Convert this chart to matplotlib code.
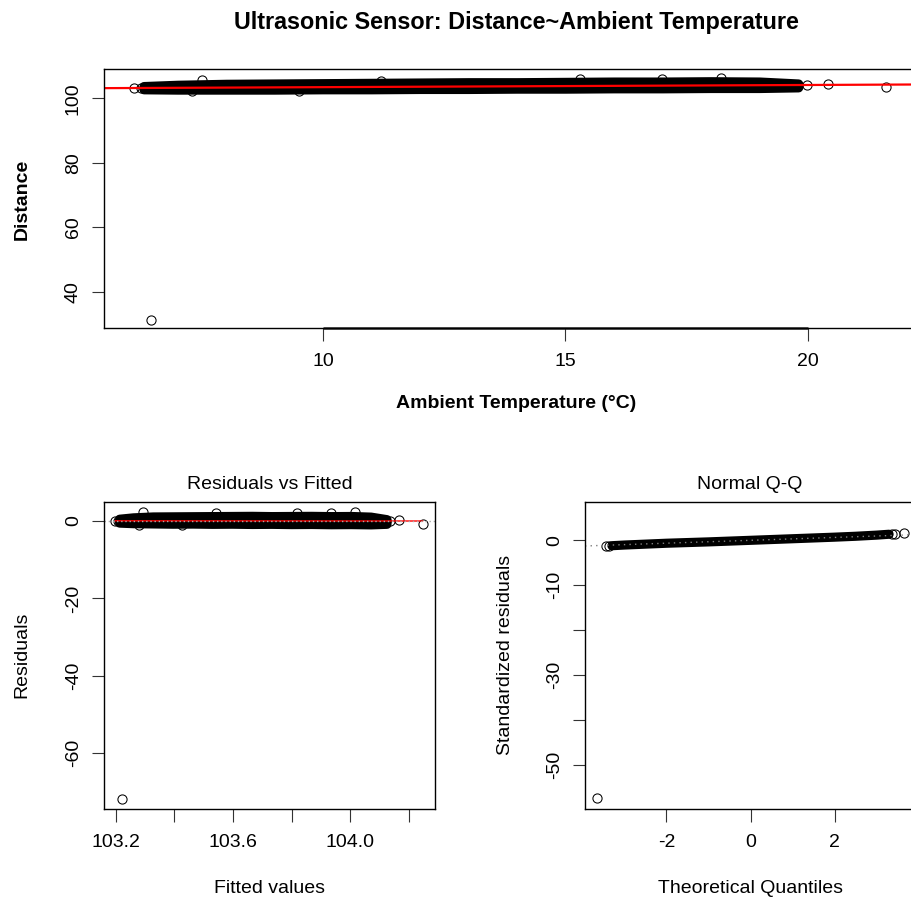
import matplotlib
matplotlib.use("Agg")
import matplotlib.pyplot as plt
import numpy as np

plt.rcParams['font.family'] = ['Liberation Sans', 'DejaVu Sans']
plt.rcParams['axes.unicode_minus'] = False

W, H = 911, 905

# fitted model  Distance = b0 + b1 * Temperature
b0 = 102.786
b1 = 0.06755
sigma = 1.25  # residual standard error

# dense body of the scatter: lower / upper edge of the distance cloud at each temperature
band_temp = [6.3, 7.0, 8.0, 9.0, 10.0, 11.0, 12.0, 13.0, 14.0, 15.0, 16.0, 17.0, 18.0, 19.0, 19.8]
band_low = [102.8, 102.7, 102.7, 102.7, 102.8, 102.8, 102.9, 102.9, 103.0, 103.0, 103.1, 103.1, 103.2, 103.2, 103.4]
band_high = [103.8, 104.2, 104.5, 104.6, 104.7, 104.8, 104.9, 105.0, 105.0, 105.1, 105.2, 105.2, 105.3, 105.2, 104.6]

# sparse observations around the dense body
temp_pts = [6.11, 6.25, 6.454, 6.35, 6.6, 7.3, 7.5, 9.5, 11.2, 15.3, 17.0, 18.2, 19.6, 19.8, 19.99, 20.41, 21.62]
dist_pts = [103.2, 103.3, 31.3, 103.1, 103.5, 102.3, 105.6, 102.4, 105.5, 105.9, 105.9, 106.3, 103.8, 104.2, 104.13, 104.44, 103.6]

# Normal Q-Q: theoretical quantiles and sorted standardized residuals
qq_theo = [-3.30, -3.0, -2.5, -2.0, -1.0, 0.0, 1.0, 2.0, 2.5, 3.0, 3.30]
qq_std = [-1.2, -1.05, -0.85, -0.65, -0.35, 0.0, 0.35, 0.7, 0.9, 1.15, 1.35]
qq_pts_theo = [-3.65, -3.45, -3.38, 3.38, 3.45, 3.65]
qq_pts_std = [-57.3, -1.35, -1.3, 1.45, 1.5, 1.6]
qq_line = (0.0, 0.32)  # intercept, slope of the reference line

x_ticks_top = [10, 15, 20]
y_ticks_top = [40, 60, 80, 100]
x_ticks_res = [103.2, 103.4, 103.6, 103.8, 104.0, 104.2]
x_labels_res = ['103.2', '', '103.6', '', '104.0', '']
y_ticks_res = [0, -20, -40, -60]
x_ticks_qq = [-2, 0, 2]
y_ticks_qq = [0, -10, -20, -30, -40, -50]
y_labels_qq = ['0', '-10', '', '-30', '', '-50']

fig = plt.figure(figsize=(W / 100, H / 100), dpi=100)


def box(l, t, r, b):
    return [l / W, 1 - b / H, (r - l) / W, (b - t) / H]


def style(ax):
    for s in ax.spines.values():
        s.set_linewidth(1.0)
        s.set_color('black')
    ax.tick_params(direction='out', length=9, width=0.8, labelsize=14, color='#333333')
    ax.tick_params(axis='x', pad=9)
    ax.tick_params(axis='y', pad=7)
    for lab in ax.get_yticklabels():
        lab.set_rotation(90)
        lab.set_va('center')


circ = dict(marker='o', ms=6.6, mfc='none', mec='black', mew=0.75, ls='none')
band_lw = 6.6

# ---- top: distance vs temperature -------------------------------------------
ax1 = fig.add_axes(box(104, 69.5, 916, 328))
ax1.fill_between(band_temp, band_low, band_high, facecolor='black', edgecolor='black',
                 linewidth=band_lw, joinstyle='round')
ax1.plot(temp_pts, dist_pts, **circ)
ax1.axline((0, b0), slope=b1, color='red', lw=1.6)
ax1.set_xlim(5.485, 22.23)
ax1.set_ylim(28.74, 108.94)
ax1.set_xticks(x_ticks_top)
ax1.set_yticks(y_ticks_top)
# axis line running between the outer ticks
ax1.plot([x_ticks_top[0], x_ticks_top[-1]], [28.74, 28.74], color='#222222', lw=1.8,
         clip_on=False, solid_capstyle='butt')
style(ax1)

# ---- bottom left: residuals vs fitted ----------------------------------------
bt = np.array(band_temp)
fit_band = b0 + b1 * bt
fit_pts = b0 + b1 * np.array(temp_pts)
res_pts = np.array(dist_pts) - fit_pts

ax2 = fig.add_axes(box(104, 502, 435, 809))
ax2.fill_between(fit_band, np.array(band_low) - fit_band, np.array(band_high) - fit_band,
                 facecolor='black', edgecolor='black', linewidth=band_lw, joinstyle='round')
ax2.plot(fit_pts, res_pts, **circ)
fmin, fmax = b0 + b1 * min(temp_pts), b0 + b1 * max(temp_pts)
ax2.plot([fmin, fmax], [0.05, 0.0], color='red', lw=1.0)
ax2.axhline(0, color='#aaaaaa', lw=1.0, ls=(0, (1, 2)))
ax2.set_xlim(103.160, 104.289)
ax2.set_ylim(-74.38, 4.91)
ax2.set_xticks(x_ticks_res)
ax2.set_xticklabels(x_labels_res)
ax2.set_yticks(y_ticks_res)
style(ax2)

# ---- bottom right: normal Q-Q -----------------------------------------------
ax3 = fig.add_axes(box(585, 502, 916, 809))
ax3.plot(qq_theo, qq_std, color='black', lw=band_lw, solid_capstyle='round')
ax3.plot(qq_pts_theo, qq_pts_std, **circ)
ax3.axline((0, qq_line[0]), slope=qq_line[1], color='#7f7f7f', lw=1.0, ls=(0, (1, 3)))
ax3.set_xlim(-3.94, 3.94)
ax3.set_ylim(-59.75, 8.52)
ax3.set_xticks(x_ticks_qq)
ax3.set_yticks(y_ticks_qq)
ax3.set_yticklabels(y_labels_qq)
style(ax3)

# ---- titles and axis labels --------------------------------------------------
def ftext(x, y, s, **kw):
    fig.text(x / W, 1 - y / H, s, ha='center', va='center', **kw)

ftext(516, 22, 'Ultrasonic Sensor: Distance~Ambient Temperature', fontsize=16.8, fontweight='bold')
ftext(516, 403, 'Ambient Temperature (°C)', fontsize=14, fontweight='bold')
ftext(22, 199, 'Distance', fontsize=14, fontweight='bold', rotation=90)
ftext(270, 484, 'Residuals vs Fitted', fontsize=14)
ftext(750, 484, 'Normal Q-Q', fontsize=14)
ftext(22, 655, 'Residuals', fontsize=14, rotation=90)
ftext(270, 888, 'Fitted values', fontsize=14)
ftext(750, 888, 'Theoretical Quantiles', fontsize=14)
ftext(505, 655, 'Standardized residuals', fontsize=14, rotation=90)

fig.savefig('out.png', dpi=100)
